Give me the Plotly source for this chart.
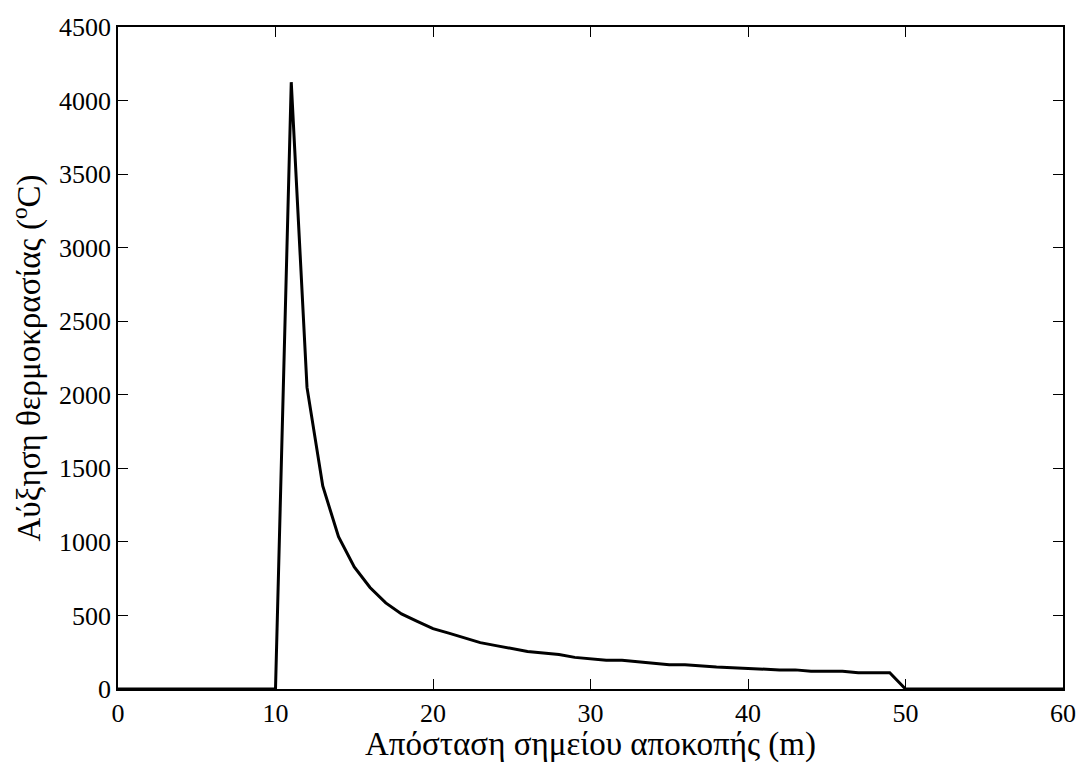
import plotly.graph_objects as go

distance_m = list(range(0, 61))
temp_rise = ([0] * 11 +
             [4125, 2050, 1380, 1035, 830, 690, 585, 510, 460, 410,
              380, 345, 315, 295, 275, 255, 245, 235, 215, 205,
              195, 195, 185, 175, 165, 165, 155, 150, 145, 140,
              130, 130, 130, 120, 120, 120, 110, 110, 110] +
             [0] * 11)

x_ticks = [0, 10, 20, 30, 40, 50, 60]
y_ticks = [0, 500, 1000, 1500, 2000, 2500, 3000, 3500, 4000, 4500]

fig = go.Figure(go.Scatter(x=distance_m, y=temp_rise, mode="lines",
                           line=dict(color="black", width=3)))

font = dict(family="Liberation Serif, Times New Roman, serif", color="black")
axis_common = dict(showgrid=False, zeroline=False, showline=True, linecolor="black",
                   linewidth=1.5, mirror="ticks", ticks="inside", ticklen=10,
                   tickcolor="black", tickwidth=1,
                   tickfont=dict(size=26, **font))

fig.update_layout(
    width=1088, height=763,
    margin=dict(l=118, r=18, t=27, b=73),
    plot_bgcolor="white", paper_bgcolor="white",
    showlegend=False,
    xaxis=dict(range=[0, 60], tickvals=x_ticks, **axis_common,
               title=dict(text="Απόσταση σημείου αποκοπής (m)",
                          font=dict(size=33, **font), standoff=0)),
    yaxis=dict(range=[0, 4500], tickvals=y_ticks, **axis_common,
               title=dict(text="Αύξηση θερμοκρασίας (<sup>o</sup>C)",
                          font=dict(size=33, **font), standoff=8)),
)

fig.write_html("out.html")
